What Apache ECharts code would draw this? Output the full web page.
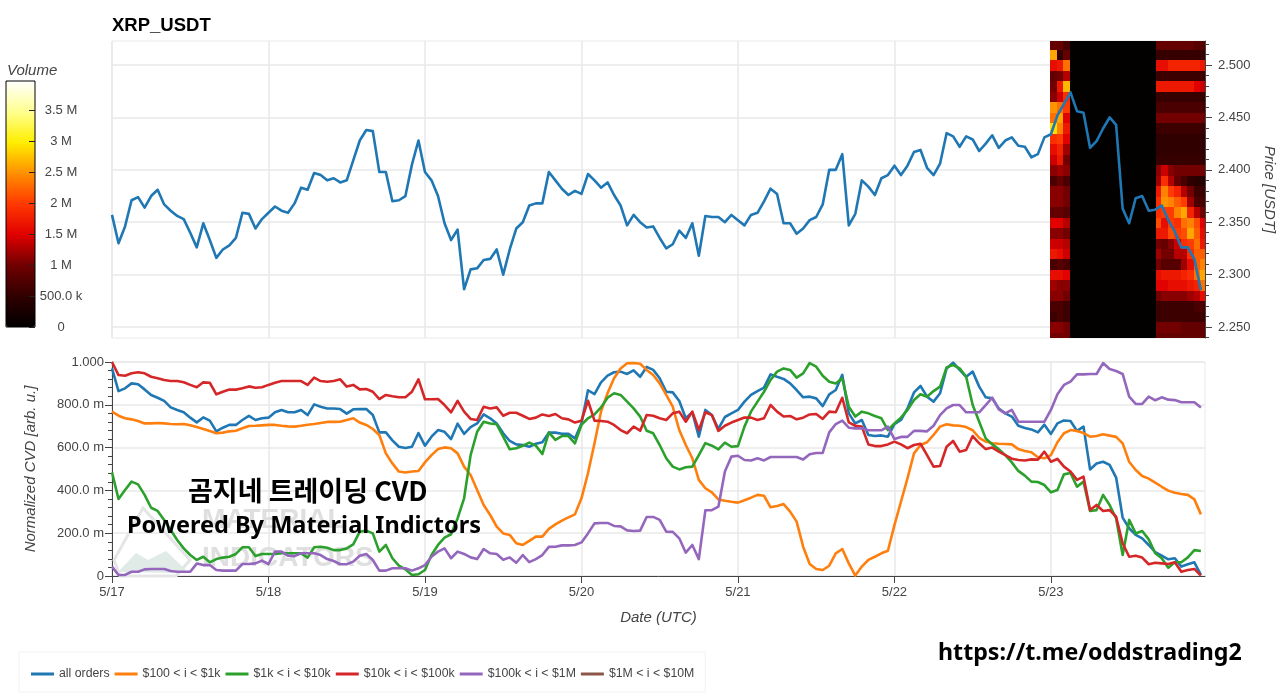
<!DOCTYPE html>
<html>
<head>
<meta charset="utf-8">
<title>XRP_USDT</title>
<script src="https://cdn.jsdelivr.net/npm/echarts@6/dist/echarts.min.js"></script>
<style>
  html, body { margin: 0; padding: 0; background: #fff; }
  #chart { width: 1280px; height: 694px; }
</style>
</head>
<body>
<div id="chart"></div>
<script>
var dayLabels = ['5/17', '5/18', '5/19', '5/20', '5/21', '5/22', '5/23'];
var dayTicks = [0, 24, 48, 72, 96, 120, 144];
var priceTicks = [2.25, 2.3, 2.35, 2.4, 2.45, 2.5];
var priceMinorTicks = [2.24, 2.26, 2.27, 2.28, 2.29, 2.31, 2.32, 2.33, 2.34, 2.36, 2.37, 2.38, 2.39, 2.41, 2.42, 2.43, 2.44, 2.46, 2.47, 2.48, 2.49, 2.51, 2.52];
var cvdTicks = [0, 0.2, 0.4, 0.6, 0.8, 1];
var cvdTickLabels = ['0', '200.0 m', '400.0 m', '600.0 m', '800.0 m', '1.000'];
var volumeTicks = [0, 0.5, 1, 1.5, 2, 2.5, 3, 3.5];
var volumeTickLabels = ['0', '500.0 k', '1 M', '1.5 M', '2 M', '2.5 M', '3 M', '3.5 M'];
var legendNames = ['all orders', '$100 < i < $1k', '$1k < i < $10k', '$10k < i < $100k', '$100k < i < $1M', '$1M < i < $10M'];
var lineColors = ['#1f77b4', '#ff7f0e', '#2ca02c', '#d62728', '#9467bd', '#8c564b'];
var heatColors = ['#000000', '#300000', '#700000', '#e00000', '#ff3800', '#ff9000', '#ffee00', '#ffff90', '#ffffff'];

// hourly close
var price = [
  2.357, 2.330, 2.346, 2.371, 2.374, 2.364, 2.375, 2.381, 2.367, 2.361, 2.356, 2.353, 2.340, 2.326, 2.349, 2.333, 2.316, 2.324, 2.328, 2.335, 2.359, 2.358, 2.344, 2.353,
  2.359, 2.365, 2.361, 2.359, 2.368, 2.383, 2.381, 2.397, 2.395, 2.390, 2.392, 2.388, 2.390, 2.409, 2.428, 2.438, 2.437, 2.398, 2.398, 2.370, 2.371, 2.375, 2.405, 2.428,
  2.398, 2.390, 2.375, 2.349, 2.333, 2.343, 2.286, 2.305, 2.306, 2.314, 2.315, 2.324, 2.300, 2.324, 2.344, 2.350, 2.366, 2.368, 2.368, 2.398, 2.390, 2.382, 2.376, 2.380,
  2.377, 2.396, 2.390, 2.383, 2.388, 2.376, 2.366, 2.347, 2.357, 2.350, 2.345, 2.346, 2.335, 2.325, 2.329, 2.342, 2.335, 2.349, 2.318, 2.356, 2.355, 2.355, 2.350, 2.357,
  2.352, 2.347, 2.357, 2.359, 2.370, 2.382, 2.377, 2.349, 2.349, 2.339, 2.344, 2.352, 2.355, 2.367, 2.400, 2.400, 2.415, 2.347, 2.358, 2.390, 2.384, 2.376, 2.392, 2.395,
  2.404, 2.395, 2.404, 2.417, 2.419, 2.402, 2.395, 2.406, 2.435, 2.432, 2.422, 2.432, 2.429, 2.418, 2.425, 2.433, 2.421, 2.428, 2.431, 2.423, 2.422, 2.412, 2.415, 2.431,
  2.434, 2.452, 2.463, 2.474, 2.456, 2.4545, 2.421, 2.4275, 2.4395, 2.450, 2.443, 2.363, 2.349, 2.373, 2.375, 2.361, 2.362, 2.366, 2.352, 2.341, 2.326, 2.326, 2.315, 2.285
];

var allOrders = [
  .970, .864, .877, .900, .896, .872, .846, .833, .818, .788, .776, .765, .740, .718, .741, .726, .676, .693, .706, .706, .729, .748, .729, .737,
  .740, .765, .776, .765, .765, .776, .752, .802, .791, .783, .783, .780, .759, .779, .780, .780, .752, .671, .671, .634, .604, .598, .604, .668,
  .609, .651, .682, .674, .640, .712, .664, .696, .713, .755, .737, .713, .667, .631, .615, .612, .604, .618, .625, .670, .670, .665, .665, .643,
  .713, .868, .850, .905, .936, .952, .955, .944, .961, .931, .977, .963, .924, .861, .858, .818, .737, .765, .651, .776, .752, .687, .743, .760,
  .776, .815, .846, .864, .880, .942, .931, .921, .900, .869, .835, .838, .830, .794, .849, .869, .940, .760, .713, .729, .659, .654, .657, .651,
  .710, .729, .783, .858, .888, .838, .815, .854, .970, .997, .963, .931, .955, .885, .835, .830, .783, .760, .745, .702, .692, .685, .671, .707,
  .664, .713, .727, .724, .678, .698, .498, .526, .534, .519, .460, .273, .223, .192, .176, .145, .111, .095, .078, .083, .044, .055, .064, .005
];
var orders100 = [
  .768, .749, .737, .732, .724, .713, .713, .715, .713, .710, .709, .710, .704, .696, .687, .678, .667, .670, .676, .679, .690, .701, .702, .704,
  .706, .706, .702, .699, .698, .702, .707, .710, .715, .720, .720, .721, .729, .737, .717, .706, .687, .659, .573, .526, .488, .484, .488, .491,
  .531, .565, .593, .601, .597, .573, .511, .472, .402, .332, .285, .231, .199, .192, .153, .145, .164, .184, .184, .220, .241, .259, .274, .288,
  .363, .480, .620, .768, .854, .924, .970, .994, .995, .992, .963, .939, .900, .846, .791, .682, .612, .550, .449, .410, .391, .358, .352, .347,
  .343, .354, .366, .379, .375, .321, .327, .336, .301, .254, .137, .056, .033, .028, .048, .106, .126, .059, .002, .044, .075, .090, .106, .118,
  .238, .347, .456, .573, .612, .625, .659, .698, .709, .704, .702, .696, .681, .646, .628, .620, .618, .617, .615, .593, .584, .578, .555, .550,
  .565, .625, .667, .682, .678, .668, .651, .654, .662, .656, .650, .620, .534, .495, .467, .455, .436, .417, .399, .389, .383, .379, .358, .288
];
var orders1k = [
  .484, .360, .402, .441, .428, .379, .319, .304, .262, .215, .168, .129, .098, .075, .090, .064, .079, .086, .090, .103, .134, .134, .093, .103,
  .103, .103, .106, .106, .106, .106, .086, .134, .137, .132, .121, .121, .129, .148, .207, .212, .199, .114, .145, .083, .048, .031, .005, .008,
  .028, .098, .145, .179, .195, .269, .363, .565, .674, .721, .713, .709, .651, .592, .597, .609, .623, .609, .570, .671, .636, .654, .654, .620,
  .706, .737, .755, .788, .833, .854, .846, .815, .783, .745, .679, .667, .612, .550, .511, .498, .508, .511, .565, .621, .609, .592, .623, .604,
  .607, .698, .768, .815, .861, .916, .955, .970, .963, .927, .947, .995, .978, .936, .908, .900, .924, .791, .745, .768, .760, .748, .737, .682,
  .713, .740, .776, .822, .849, .838, .864, .885, .975, .986, .970, .931, .799, .721, .643, .615, .593, .565, .531, .491, .469, .441, .439, .425,
  .391, .402, .475, .481, .417, .441, .304, .308, .379, .332, .269, .098, .262, .199, .210, .171, .106, .083, .039, .064, .064, .087, .121, .117
];
var orders10k = [
  1.000, .939, .936, .947, .952, .947, .931, .924, .916, .911, .911, .905, .893, .882, .905, .903, .849, .861, .871, .871, .877, .886, .880, .882,
  .893, .903, .911, .911, .911, .911, .893, .927, .911, .908, .911, .919, .885, .893, .872, .874, .861, .827, .846, .840, .835, .835, .861, .919,
  .826, .826, .827, .799, .765, .818, .768, .734, .729, .791, .783, .788, .749, .763, .763, .749, .734, .740, .755, .748, .757, .737, .732, .717,
  .726, .819, .726, .724, .721, .706, .682, .667, .698, .679, .752, .749, .737, .729, .760, .768, .721, .768, .682, .765, .752, .678, .702, .717,
  .729, .741, .740, .729, .737, .799, .768, .745, .748, .732, .740, .755, .757, .734, .768, .765, .833, .718, .702, .698, .615, .607, .607, .615,
  .628, .615, .597, .612, .618, .565, .511, .514, .604, .631, .581, .589, .654, .620, .593, .600, .581, .565, .548, .542, .540, .545, .544, .581,
  .534, .547, .511, .488, .449, .464, .308, .332, .304, .308, .277, .153, .090, .095, .086, .055, .062, .059, .056, .064, .020, .028, .033, .002
];
var orders100k = [
  .044, .005, .005, .020, .020, .031, .033, .033, .033, .023, .020, .020, .020, .058, .051, .051, .028, .025, .025, .025, .056, .056, .059, .072,
  .056, .114, .114, .095, .093, .106, .106, .106, .098, .079, .070, .055, .055, .067, .095, .103, .075, .025, .025, .036, .036, .036, .025, .036,
  .051, .090, .114, .129, .083, .114, .103, .087, .079, .126, .106, .103, .076, .087, .062, .098, .065, .079, .098, .136, .137, .143, .143, .145,
  .157, .199, .246, .248, .248, .234, .232, .213, .210, .212, .276, .276, .262, .207, .206, .176, .109, .145, .079, .307, .308, .324, .488, .558,
  .562, .542, .540, .550, .540, .556, .556, .556, .556, .556, .544, .569, .575, .575, .671, .710, .726, .693, .690, .690, .681, .681, .681, .698,
  .640, .650, .650, .678, .678, .676, .702, .752, .783, .799, .799, .765, .765, .765, .799, .833, .779, .760, .776, .721, .721, .721, .721, .721,
  .776, .849, .893, .908, .942, .942, .944, .944, .995, .967, .958, .944, .838, .804, .804, .838, .821, .835, .824, .822, .812, .812, .812, .787
];
var orders1m = [];

// volume profile, millions, one row per price level from the top down
var heatLevels = [2.519, 2.509, 2.499, 2.489, 2.479, 2.469, 2.459, 2.449, 2.439, 2.429, 2.419, 2.409, 2.399, 2.389, 2.379, 2.369, 2.359, 2.349, 2.339, 2.329, 2.319, 2.309, 2.299, 2.289, 2.279, 2.269, 2.259, 2.249, 2.239];
var heatLeftHours = [144, 145, 146];
var heatLeft = [
  [.9, .9, .7], [2.6, .5, .9], [1.6, 1.7, 2.3], [.9, 1.0, 1.3], [1.0, 1.7, 2.7], [1.1, 1.4, 1.9], [2.5, 2.3, 2.0], [2.3, 2.6, 1.5],
  [2.9, 2.4, 1.7], [1.9, 2.0, 1.5], [1.6, 1.8, 1.2], [1.4, 1.7, 1.0], [1.1, 1.2, 1.1], [.7, .9, .7], [1.1, 1.1, 1.0], [1.1, 1.1, 1.0],
  [.9, .9, .8], [1.5, 1.5, 1.3], [1.1, 1.1, 1.0], [1.4, 1.4, 1.3], [1.7, 1.6, 1.4], [.7, .8, .7], [1.6, 1.6, 1.5], [1.2, 1.1, 1.1],
  [1.1, 1.1, 1.0], [.7, .7, .6], [.6, .7, .6], [1.1, 1.1, 1.0], [1.0, 1.0, 1.0]
];
var heatRightHours = [160, 161, 162, 163, 164, 165, 166, 167];
var heatRight = [
  [.9, .9, .9, .9, .9, .9, .8, .8], [.55, .55, .55, .55, .55, .55, .55, .55], [1.6, 1.6, 1.8, 1.8, 1.8, 1.8, 1.8, 1.7], [.6, .6, .6, .6, .6, .6, .6, .6],
  [1.7, 1.7, 1.7, 1.7, 1.7, 1.7, 1.5, 1.4], [.55, .55, .55, .55, .55, .55, .55, .55], [.7, .7, .7, .7, .7, .7, .7, .7], [1.0, 1.0, 1.0, 1.0, 1.0, 1.0, 1.0, 1.0],
  [.6, .6, .6, .6, .6, .6, .6, .6], [.5, .5, .5, .5, .5, .5, .5, .5], [.5, .5, .5, .5, .5, .5, .5, .5], [.55, .55, .55, .55, .55, .55, .55, .55],
  [1.1, 1.4, 1.1, 1.0, 1.0, 1.0, 1.0, 1.0], [1.2, 1.9, 1.3, .9, .7, .5, .4, .4], [1.7, 2.4, 2.0, 1.8, 1.3, 1.0, .6, .6], [1.9, 2.5, 2.4, 2.2, 2.0, 1.2, .7, .7],
  [1.9, 2.0, 2.0, 2.4, 2.6, 1.8, 1.3, 1.0], [2.1, 1.6, 2.0, 1.9, 2.3, 2.4, 2.1, 1.5], [1.7, 1.7, 2.1, 2.0, 2.1, 2.6, 2.2, 1.6], [1.0, .9, 1.1, 1.4, 1.9, 2.0, 2.3, 1.7],
  [1.2, 1.0, 1.0, 1.3, 1.3, 1.9, 2.2, 2.2], [1.0, .8, .8, .8, 1.2, 1.6, 2.2, 2.4], [1.6, 1.7, 1.7, 1.7, 1.8, 1.9, 2.3, 2.6], [1.5, 1.5, 1.6, 1.6, 1.6, 1.7, 1.8, 2.3],
  [1.0, 1.1, 1.1, 1.1, 1.1, 1.2, 1.3, 1.6], [.6, .6, .6, .6, .6, .6, .7, .7], [.6, .6, .6, .6, .6, .6, .6, .6], [1.0, 1.0, 1.0, 1.0, .9, .9, .9, .9], [.9, .9, .9, .9, .9, .9, .9, .9]
];
var heatGapHours = [147, 160];
var heatGapVolume = 0.03;

var LEVEL_STEP = 0.01;
var PLOT_LEFT = 112;
var PLOT_WIDTH = 1093;
var HOUR_MAX = 167.63;
var FONT = '"Liberation Sans", Arial, sans-serif';
var AXIS_COLOR = '#444';
var GRID_COLOR = '#e9e9e9';

function toPoints (values) {
  return values.map(function (v, i) { return [i, v]; });
}

function buildHeatCells () {
  var cells = [];
  heatLevels.forEach(function (level, r) {
    var y0 = level - LEVEL_STEP / 2;
    var y1 = level + LEVEL_STEP / 2;
    heatLeftHours.forEach(function (h, c) {
      cells.push([h, h + 1, y0, y1, heatLeft[r][c]]);
    });
    heatRightHours.forEach(function (h, c) {
      cells.push([h, h + 1, y0, y1, heatRight[r][c]]);
    });
    cells.push([heatGapHours[0], heatGapHours[1], y0, y1, heatGapVolume]);
  });
  return cells;
}

function renderCell (params, api) {
  var a = api.coord([api.value(0), api.value(3)]);
  var b = api.coord([api.value(1), api.value(2)]);
  return {
    type: 'rect',
    shape: {
      x: Math.floor(a[0]),
      y: Math.floor(a[1]),
      width: Math.ceil(b[0]) - Math.floor(a[0]),
      height: Math.ceil(b[1]) - Math.floor(a[1])
    },
    style: { fill: api.visual('color') }
  };
}

function lineSeries (name, values, color) {
  return {
    name: name,
    type: 'line',
    xAxisIndex: 1,
    yAxisIndex: 2,
    data: toPoints(values),
    color: color,
    showSymbol: false,
    z: 3,
    clip: false,
    lineStyle: { width: 2.6, color: color, join: 'round' }
  };
}

var chart = echarts.init(document.getElementById('chart'));

chart.setOption({
  animation: false,
  backgroundColor: '#fff',
  textStyle: { fontFamily: FONT },
  title: {
    text: 'XRP_USDT',
    left: 112,
    top: 16,
    padding: 0,
    textStyle: { fontSize: 18.5, fontWeight: 'bold', color: '#000', fontFamily: FONT }
  },
  legend: {
    data: legendNames,
    left: 19,
    top: 652,
    padding: [16, 11, 12, 12],
    itemGap: 5,
    itemWidth: 23,
    itemHeight: 3,
    icon: 'rect',
    selectedMode: false,
    borderColor: '#f2f2f2',
    borderWidth: 1,
    textStyle: { fontSize: 12.3, color: AXIS_COLOR, fontFamily: FONT }
  },
  grid: [
    { left: PLOT_LEFT, top: 41, width: PLOT_WIDTH, height: 297, show: true, borderColor: GRID_COLOR, borderWidth: 1, outerBoundsMode: 'none' },
    { left: PLOT_LEFT, top: 362, width: PLOT_WIDTH, height: 214, show: true, borderColor: GRID_COLOR, borderWidth: 1, outerBoundsMode: 'none' },
    { left: 6, top: 81, width: 29, height: 246, show: true, borderColor: '#000', borderWidth: 1, z: 10, outerBoundsMode: 'none' },
    // same box as the price plot, only there to carry the short price ticks
    { left: PLOT_LEFT, top: 41, width: PLOT_WIDTH, height: 297, outerBoundsMode: 'none' }
  ],
  xAxis: [
    {
      gridIndex: 0, type: 'value', min: 0, max: HOUR_MAX,
      axisLine: { show: false },
      axisLabel: { show: false },
      axisTick: { show: false, customValues: dayTicks },
      splitLine: { lineStyle: { color: GRID_COLOR, width: 1.5 } }
    },
    {
      gridIndex: 1, type: 'value', min: 0, max: HOUR_MAX,
      name: 'Date (UTC)',
      nameLocation: 'middle',
      nameGap: 34,
      nameTextStyle: { fontSize: 15, fontStyle: 'italic', color: AXIS_COLOR, fontFamily: FONT },
      axisLine: { onZero: false, lineStyle: { color: AXIS_COLOR } },
      axisTick: { customValues: dayTicks, length: 7, lineStyle: { color: AXIS_COLOR } },
      axisLabel: {
        customValues: dayTicks,
        margin: 10,
        fontSize: 13,
        color: AXIS_COLOR,
        formatter: function (v) { return dayLabels[dayTicks.indexOf(v)]; }
      },
      splitLine: { lineStyle: { color: GRID_COLOR, width: 1.5 } }
    },
    { gridIndex: 2, type: 'value', min: 0, max: 1, show: false },
    { gridIndex: 3, type: 'value', min: 0, max: 1, show: false }
  ],
  yAxis: [
    {
      gridIndex: 0, type: 'value', position: 'right', min: 2.2395, max: 2.523,
      name: 'Price [USDT]',
      nameLocation: 'middle',
      nameRotate: -90,
      nameGap: 56,
      nameTextStyle: { fontSize: 15, fontStyle: 'italic', color: AXIS_COLOR, fontFamily: FONT },
      axisLine: { show: true, onZero: false, lineStyle: { color: AXIS_COLOR } },
      axisTick: { customValues: priceTicks, length: 7, lineStyle: { color: AXIS_COLOR } },
      axisLabel: {
        customValues: priceTicks,
        margin: 13,
        fontSize: 13,
        color: AXIS_COLOR,
        formatter: function (v) { return v.toFixed(3); }
      },
      splitLine: { lineStyle: { color: GRID_COLOR, width: 1.5 } }
    },
    {
      gridIndex: 3, type: 'value', position: 'right', min: 2.2395, max: 2.523,
      axisLine: { show: false, onZero: false },
      axisLabel: { show: false },
      axisTick: { customValues: priceMinorTicks, length: 4, lineStyle: { color: AXIS_COLOR } },
      splitLine: { show: false }
    },
    {
      gridIndex: 1, type: 'value', min: 0, max: 1, interval: 0.2,
      name: 'Normalized CVD [arb. u.]',
      nameLocation: 'middle',
      nameRotate: 90,
      nameGap: 74,
      nameTextStyle: { fontSize: 15, fontStyle: 'italic', color: AXIS_COLOR, fontFamily: FONT },
      axisLine: { show: true, onZero: false, lineStyle: { color: AXIS_COLOR } },
      axisTick: { length: 7, lineStyle: { color: AXIS_COLOR } },
      minorTick: { show: true, splitNumber: 5, length: 4, lineStyle: { color: AXIS_COLOR } },
      axisLabel: {
        margin: 8,
        fontSize: 13,
        color: AXIS_COLOR,
        formatter: function (v) { return cvdTickLabels[cvdTicks.indexOf(+v.toFixed(1))]; }
      },
      splitLine: { lineStyle: { color: GRID_COLOR, width: 1.5 } }
    },
    {
      gridIndex: 2, type: 'value', position: 'right', min: 0, max: 3.97, z: 11,
      axisLine: { show: false, onZero: false },
      axisTick: { customValues: volumeTicks, inside: true, length: 6, lineStyle: { color: '#222' } },
      axisLabel: {
        customValues: volumeTicks,
        margin: 26,
        align: 'center',
        fontSize: 13,
        color: AXIS_COLOR,
        formatter: function (v) { return volumeTickLabels[volumeTicks.indexOf(v)]; }
      },
      splitLine: { show: false }
    }
  ],
  visualMap: {
    type: 'continuous',
    seriesIndex: 0,
    dimension: 4,
    min: 0,
    max: 3.97,
    left: 6,
    top: 81,
    padding: 0,
    itemWidth: 29,
    itemHeight: 246,
    calculable: false,
    hoverLink: false,
    text: null,
    inRange: { color: heatColors }
  },
  graphic: [
    { type: 'text', left: 7, top: 63, style: { text: 'Volume', fontSize: 15, fontStyle: 'italic', fill: AXIS_COLOR, fontFamily: FONT } },
    { type: 'polygon', z: 1, shape: { points: [[143, 508], [190, 560], [176, 576], [120, 576], [114, 560]] }, style: { fill: 'none', stroke: '#e4e6e6', lineWidth: 3 } },
    { type: 'polygon', z: 1, shape: { points: [[118, 572], [136, 553], [148, 560], [166, 551], [186, 570], [176, 573]] }, style: { fill: '#e0eae7' } },
    { type: 'text', z: 1, left: 202, top: 506, style: { text: 'MATERIAL', fontSize: 28, fontWeight: 'bold', fill: '#dfdfdf', fontFamily: FONT } },
    { type: 'text', z: 1, left: 202, top: 544, style: { text: 'INDICATORS', fontSize: 28, fontWeight: 'bold', fill: '#dfdfdf', fontFamily: FONT } },
    { type: 'text', z: 100, left: 188, top: 477, style: { text: '곰지네 트레이딩 CVD', fontSize: 27, fontWeight: 'bold', fill: '#000', fontFamily: '"Noto Sans CJK KR", sans-serif' } },
    { type: 'text', z: 100, left: 127, top: 514, style: { text: 'Powered By Material Indictors', fontSize: 23.5, fontWeight: 'bold', fill: '#000', fontFamily: '"Noto Sans", sans-serif' } },
    { type: 'text', z: 100, left: 938, top: 642, style: { text: 'https://t.me/oddstrading2', fontSize: 23.2, fontWeight: 'bold', fill: '#000', fontFamily: '"Noto Sans", sans-serif' } }
  ],
  series: [
    {
      type: 'custom',
      xAxisIndex: 0,
      yAxisIndex: 0,
      coordinateSystem: 'cartesian2d',
      renderItem: renderCell,
      data: buildHeatCells(),
      encode: { x: [0, 1], y: [2, 3] },
      clip: true,
      z: 1,
      silent: true
    },
    {
      name: 'price',
      type: 'line',
      xAxisIndex: 0,
      yAxisIndex: 0,
      data: toPoints(price),
      showSymbol: false,
      z: 3,
      lineStyle: { width: 2.6, color: lineColors[0], join: 'round' },
      itemStyle: { color: lineColors[0] }
    },
    lineSeries(legendNames[0], allOrders, lineColors[0]),
    lineSeries(legendNames[1], orders100, lineColors[1]),
    lineSeries(legendNames[2], orders1k, lineColors[2]),
    lineSeries(legendNames[3], orders10k, lineColors[3]),
    lineSeries(legendNames[4], orders100k, lineColors[4]),
    lineSeries(legendNames[5], orders1m, lineColors[5])
  ]
});
</script>
</body>
</html>
